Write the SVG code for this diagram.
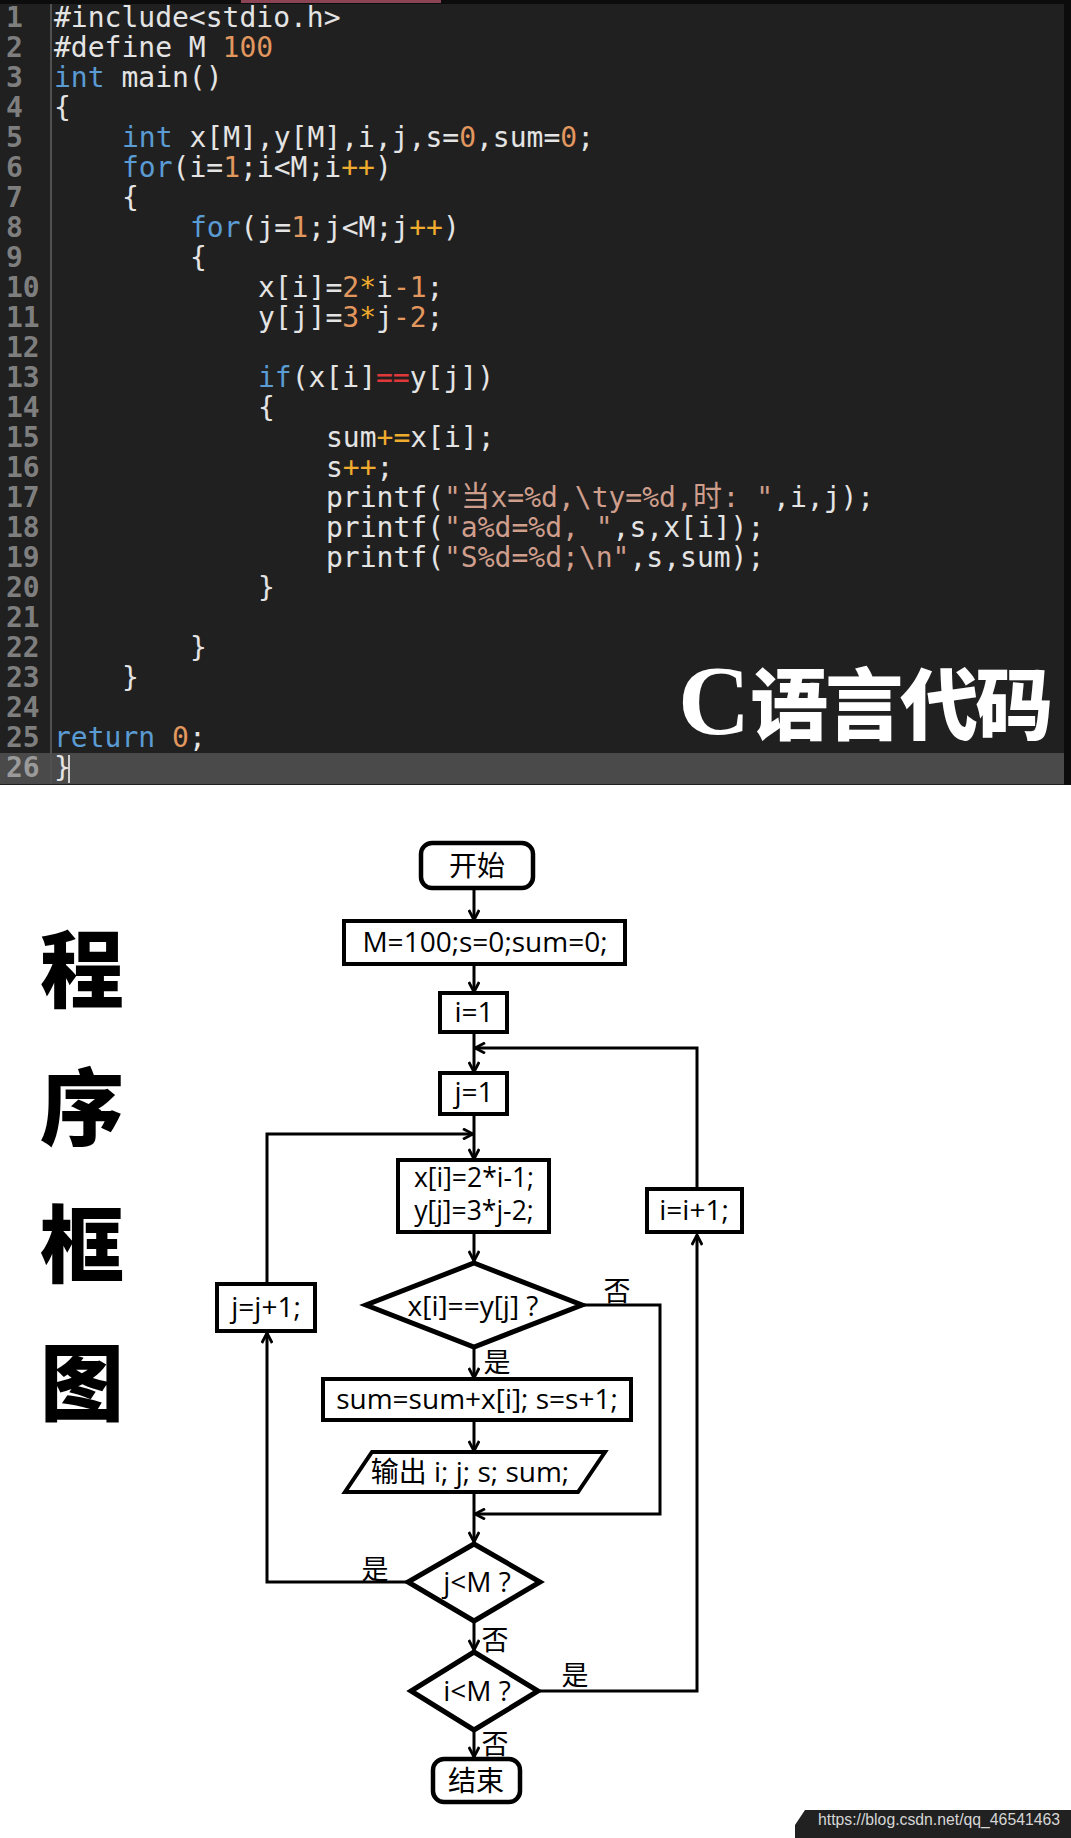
<svg xmlns="http://www.w3.org/2000/svg" width="1071" height="1838" viewBox="0 0 1071 1838">
<style>
.code{font-family:"DejaVu Sans Mono","Liberation Mono","Noto Sans CJK SC",monospace;font-size:28px;fill:#e4e4e4}
.ln{font-family:"DejaVu Sans Mono","Liberation Mono",monospace;font-size:28px;fill:#7e7e7e;font-weight:bold}
.kw{fill:#5a9bd3}
.num{fill:#e2975e}
.op{fill:#f0ac2e}
.eq{fill:#e0383a}
.str{fill:#cf9e8c}
.cjk{font-family:"Noto Sans CJK SC",sans-serif;font-size:29px}
.box{fill:#fff;stroke:#000;stroke-width:4}
.term{fill:#fff;stroke:#000;stroke-width:4.5}
.dia{fill:#fff;stroke:#000;stroke-width:5;stroke-linejoin:miter}
.t{font-family:"Open Sans","Noto Sans CJK SC",sans-serif;font-size:28px;fill:#000;text-anchor:middle}
.t2{font-size:26.5px}
.lab{font-family:"Noto Sans CJK SC",sans-serif;font-size:27px;fill:#000;text-anchor:middle}
.con{fill:none;stroke:#000;stroke-width:3}
.title{font-family:"Noto Sans CJK SC",sans-serif;font-size:84px;font-weight:900;fill:#000;text-anchor:middle}
</style>
<defs>
<marker id="arr" viewBox="0 0 12 12" refX="11" refY="6" markerWidth="12" markerHeight="12" markerUnits="userSpaceOnUse" orient="auto">
<path d="M1,0.8 L11,6 L1,11.2" fill="none" stroke="#000" stroke-width="2.8"/>
</marker>
</defs>
<rect x="0" y="0" width="1071" height="1838" fill="#fff"/>

<!-- code panel -->
<g id="code-panel">
<rect x="0" y="0" width="1071" height="785" fill="#0c0c0c"/>
<rect x="0" y="4" width="1064" height="781" fill="#202020"/>
<rect x="241" y="0" width="200" height="3" fill="#8a4454"/>
<rect x="0" y="753" width="1064" height="31" fill="#4a4a4a"/>
<line x1="51" y1="4" x2="51" y2="784" stroke="#505050" stroke-width="2"/>
<line x1="69" y1="755" x2="69" y2="783" stroke="#d0d0d0" stroke-width="2"/>
<g id="line-numbers" class="ln">
<text x="6" y="27">1</text><text x="6" y="57">2</text><text x="6" y="87">3</text><text x="6" y="117">4</text>
<text x="6" y="147">5</text><text x="6" y="177">6</text><text x="6" y="207">7</text><text x="6" y="237">8</text>
<text x="6" y="267">9</text><text x="6" y="297">10</text><text x="6" y="327">11</text><text x="6" y="357">12</text>
<text x="6" y="387">13</text><text x="6" y="417">14</text><text x="6" y="447">15</text><text x="6" y="477">16</text>
<text x="6" y="507">17</text><text x="6" y="537">18</text><text x="6" y="567">19</text><text x="6" y="597">20</text>
<text x="6" y="627">21</text><text x="6" y="657">22</text><text x="6" y="687">23</text><text x="6" y="717">24</text>
<text x="6" y="747">25</text><text x="6" y="777" fill="#9a9a9a">26</text>
</g>
<g id="code-text" class="code">
<text x="54" y="27">#include&lt;stdio.h&gt;</text>
<text x="54" y="57">#define M <tspan class="num">100</tspan></text>
<text x="54" y="87"><tspan class="kw">int</tspan> main()</text>
<text x="54" y="117">{</text>
<text x="122" y="147"><tspan class="kw">int</tspan> x[M],y[M],i,j,s=<tspan class="num">0</tspan>,sum=<tspan class="num">0</tspan>;</text>
<text x="122" y="177"><tspan class="kw">for</tspan>(i=<tspan class="num">1</tspan>;i&lt;M;i<tspan class="op">++</tspan>)</text>
<text x="122" y="207">{</text>
<text x="190" y="237"><tspan class="kw">for</tspan>(j=<tspan class="num">1</tspan>;j&lt;M;j<tspan class="op">++</tspan>)</text>
<text x="190" y="267">{</text>
<text x="258" y="297">x[i]=<tspan class="num">2</tspan><tspan class="op">*</tspan>i<tspan class="num">-1</tspan>;</text>
<text x="258" y="327">y[j]=<tspan class="num">3</tspan><tspan class="op">*</tspan>j<tspan class="num">-2</tspan>;</text>
<text x="258" y="387"><tspan class="kw">if</tspan>(x[i]<tspan class="eq">==</tspan>y[j])</text>
<text x="258" y="417">{</text>
<text x="326" y="447">sum<tspan class="op">+=</tspan>x[i];</text>
<text x="326" y="477">s<tspan class="op">++</tspan>;</text>
<text x="326" y="507">printf(<tspan class="str">"</tspan><tspan x="461" class="str cjk">当</tspan><tspan x="490.5" class="str">x=%d,\ty=%d,</tspan><tspan x="693" class="str cjk">时</tspan><tspan x="722.5" class="str">: "</tspan>,i,j);</text>
<text x="326" y="537">printf(<tspan class="str">"a%d=%d, "</tspan>,s,x[i]);</text>
<text x="326" y="567">printf(<tspan class="str">"S%d=%d;\n"</tspan>,s,sum);</text>
<text x="258" y="597">}</text>
<text x="190" y="657">}</text>
<text x="122" y="687">}</text>
<text x="54" y="747"><tspan class="kw">return</tspan> <tspan class="num">0</tspan>;</text>
<text x="54" y="777">}</text>
</g>
<text id="code-caption" y="734" fill="#fff" font-weight="bold"><tspan x="678" font-family="Liberation Serif,serif" font-size="100">C</tspan><tspan font-family="Noto Sans CJK SC,sans-serif" font-size="78" font-weight="900" letter-spacing="-3">语言代码</tspan></text>
</g>

<!-- side title -->
<g id="side-title" class="title">
<text x="82" y="1001">程</text>
<text x="82" y="1139">序</text>
<text x="82" y="1276">框</text>
<text x="82" y="1414">图</text>
</g>

<!-- connectors -->
<g id="connectors" class="con">
<path d="M474,888 V920" marker-end="url(#arr)"/>
<path d="M474,964 V992" marker-end="url(#arr)"/>
<path d="M474,1032 V1072" marker-end="url(#arr)"/>
<path d="M474,1114 V1159" marker-end="url(#arr)"/>
<path d="M474,1232 V1261" marker-end="url(#arr)"/>
<path d="M474,1349 V1378" marker-end="url(#arr)"/>
<path d="M474,1420 V1451" marker-end="url(#arr)"/>
<path d="M474,1492 V1542" marker-end="url(#arr)"/>
<path d="M584,1305 H660 V1514 H475" marker-end="url(#arr)"/>
<path d="M406,1582 H267 V1333" marker-end="url(#arr)"/>
<path d="M267,1284 V1134 H473" marker-end="url(#arr)"/>
<path d="M474,1623 V1650" marker-end="url(#arr)"/>
<path d="M540,1691 H697 V1235" marker-end="url(#arr)"/>
<path d="M697,1189 V1048 H475" marker-end="url(#arr)"/>
<path d="M474,1732 V1757" marker-end="url(#arr)"/>
</g>

<!-- nodes -->
<g id="start"><rect class="term" x="421" y="843" width="112" height="45" rx="11"/><text class="t" x="477" y="876">开始</text></g>
<g id="init"><rect class="box" x="344" y="921" width="281" height="43"/><text class="t" x="485" y="952">M=100;s=0;sum=0;</text></g>
<g id="i-init"><rect class="box" x="440" y="993" width="67" height="39"/><text class="t" x="474" y="1022">i=1</text></g>
<g id="j-init"><rect class="box" x="440" y="1073" width="67" height="41"/><text class="t" x="474" y="1102">j=1</text></g>
<g id="assign"><rect class="box" x="398" y="1160" width="151" height="72"/><text class="t t2" x="474" y="1187">x[i]=2*i-1;</text><text class="t t2" x="474" y="1220">y[j]=3*j-2;</text></g>
<g id="i-inc"><rect class="box" x="647" y="1189" width="95" height="43"/><text class="t" x="694" y="1220">i=i+1;</text></g>
<g id="j-inc"><rect class="box" x="217" y="1284" width="98" height="47"/><text class="t" x="266" y="1317">j=j+1;</text></g>
<g id="cond-eq"><polygon class="dia" points="474,1263 582,1305 474,1347 366,1305"/><text class="t" x="473" y="1316">x[i]==y[j] ?</text></g>
<g id="sum"><rect class="box" x="323" y="1379" width="308" height="41"/><text class="t" x="477" y="1409">sum=sum+x[i]; s=s+1;</text></g>
<g id="output"><polygon class="box" points="372,1452 605,1452 578,1492 345,1492"/><text class="t" x="470" y="1482">输出 i; j; s; sum;</text></g>
<g id="cond-j"><polygon class="dia" points="474,1544 540,1582 474,1621 408,1582"/><text class="t" x="477" y="1592">j&lt;M ?</text></g>
<g id="cond-i"><polygon class="dia" points="474,1652 538,1691 474,1730 411,1691"/><text class="t" x="477" y="1701">i&lt;M ?</text></g>
<g id="end"><rect class="term" x="433" y="1759" width="87" height="43" rx="11"/><text class="t" x="476" y="1791">结束</text></g>

<!-- branch labels -->
<g id="labels" class="lab">
<text x="617" y="1301">否</text>
<text x="497" y="1372">是</text>
<text x="375" y="1579">是</text>
<text x="495" y="1650">否</text>
<text x="575" y="1685">是</text>
<text x="495" y="1754">否</text>
</g>

<!-- watermark -->
<g id="watermark">
<polygon points="805,1810 1071,1810 1071,1838 795,1838 795,1825" fill="#212121"/>
<text x="818" y="1825" font-family="Liberation Sans,Arial,sans-serif" font-size="16" fill="#d6d6d6" textLength="242" lengthAdjust="spacingAndGlyphs">https://blog.csdn.net/qq_46541463</text>
</g>
</svg>
